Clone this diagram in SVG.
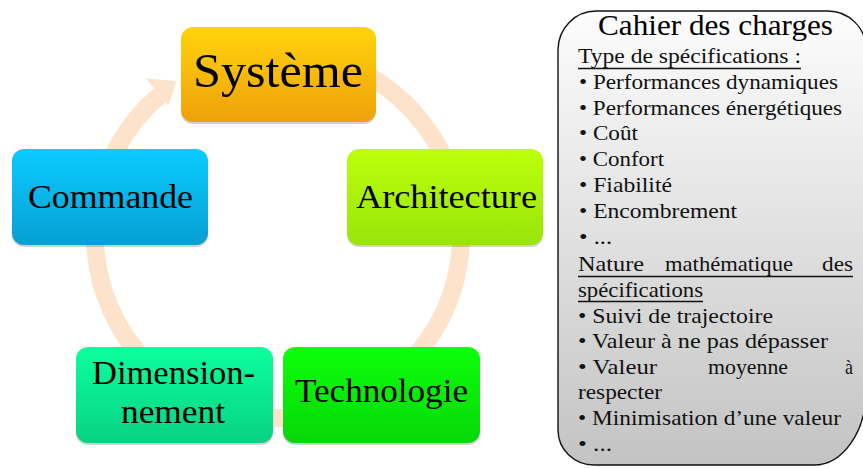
<svg xmlns="http://www.w3.org/2000/svg" width="863" height="468" viewBox="0 0 863 468">
<defs>
<linearGradient id="gSys" x1="0" y1="0" x2="0" y2="1"><stop offset="0" stop-color="#ffd30c"/><stop offset="1" stop-color="#efa10a"/></linearGradient>
<linearGradient id="gCom" x1="0" y1="0" x2="0" y2="1"><stop offset="0" stop-color="#0bcbff"/><stop offset="1" stop-color="#079fd2"/></linearGradient>
<linearGradient id="gArc" x1="0" y1="0" x2="0" y2="1"><stop offset="0" stop-color="#bdff0b"/><stop offset="1" stop-color="#98e50a"/></linearGradient>
<linearGradient id="gDim" x1="0" y1="0" x2="0" y2="1"><stop offset="0" stop-color="#0bff9d"/><stop offset="1" stop-color="#08d283"/></linearGradient>
<linearGradient id="gTec" x1="0" y1="0" x2="0" y2="1"><stop offset="0" stop-color="#0bff0b"/><stop offset="1" stop-color="#07d807"/></linearGradient>
<linearGradient id="gCdc" x1="0" y1="0" x2="0" y2="1"><stop offset="0" stop-color="#fdfdfd"/><stop offset="1" stop-color="#c3c3c3"/></linearGradient>
</defs>
<rect width="863" height="468" fill="#fff"/>
<g id="connectors" fill="#fde3cb">
<path d="M 370 76.8 A 183 183 0 1 1 159.9 95.2" fill="none" stroke="#fde3cb" stroke-width="18"/>
<polygon points="145.7,78.4 176.5,81 168.5,105.5"/>
</g>
<g id="systeme">
<rect x="181" y="29" width="195" height="95" rx="12" fill="#000" fill-opacity="0.18"/>
<rect x="181" y="27" width="195" height="95" rx="12" fill="url(#gSys)"/>
<text font-family="Liberation Serif" font-size="48" fill="#000" x="193" y="87" textLength="170" lengthAdjust="spacingAndGlyphs">Système</text>
</g>
<g id="architecture">
<rect x="347" y="151" width="196" height="96" rx="12" fill="#000" fill-opacity="0.18"/>
<rect x="347" y="149" width="196" height="96" rx="12" fill="url(#gArc)"/>
<text font-family="Liberation Serif" font-size="34" fill="#000" x="356" y="208" textLength="181" lengthAdjust="spacingAndGlyphs">Architecture</text>
</g>
<g id="technologie">
<rect x="283" y="349" width="197" height="96" rx="12" fill="#000" fill-opacity="0.18"/>
<rect x="283" y="347" width="197" height="96" rx="12" fill="url(#gTec)"/>
<text font-family="Liberation Serif" font-size="34" fill="#000" x="295" y="402" textLength="173" lengthAdjust="spacingAndGlyphs">Technologie</text>
</g>
<g id="dimensionnement">
<rect x="76" y="349" width="197" height="96" rx="12" fill="#000" fill-opacity="0.18"/>
<rect x="76" y="347" width="197" height="96" rx="12" fill="url(#gDim)"/>
<text font-family="Liberation Serif" font-size="34" fill="#000" x="92" y="384" textLength="163" lengthAdjust="spacingAndGlyphs">Dimension-</text>
<text font-family="Liberation Serif" font-size="34" fill="#000" x="121" y="423" textLength="104" lengthAdjust="spacingAndGlyphs">nement</text>
</g>
<g id="commande">
<rect x="12" y="151" width="196" height="96" rx="12" fill="#000" fill-opacity="0.18"/>
<rect x="12" y="149" width="196" height="96" rx="12" fill="url(#gCom)"/>
<text font-family="Liberation Serif" font-size="34" fill="#000" x="28" y="208" textLength="165" lengthAdjust="spacingAndGlyphs">Commande</text>
</g>
<g id="cahier">
<path d="M 558 50 A 38 39 0 0 1 596 11 H 828 A 38 38 0 0 1 866 49 V 391 A 52 74 0 0 1 814 465 H 594 A 36 35 0 0 1 558 430 Z" fill="url(#gCdc)" stroke="#111" stroke-width="1.4"/>
<text font-family="Liberation Serif" font-size="29" fill="#000" x="598" y="35" textLength="235" lengthAdjust="spacingAndGlyphs">Cahier des charges</text>
<text font-family="Liberation Serif" font-size="21" fill="#111" x="578" y="63" textLength="223" lengthAdjust="spacingAndGlyphs">Type de spécifications :</text>
<text font-family="Liberation Serif" font-size="21" fill="#111" x="579" y="89" textLength="259" lengthAdjust="spacingAndGlyphs">• Performances dynamiques</text>
<text font-family="Liberation Serif" font-size="21" fill="#111" x="579" y="115" textLength="263" lengthAdjust="spacingAndGlyphs">• Performances énergétiques</text>
<text font-family="Liberation Serif" font-size="21" fill="#111" x="579" y="140" textLength="59" lengthAdjust="spacingAndGlyphs">• Coût</text>
<text font-family="Liberation Serif" font-size="21" fill="#111" x="579" y="166" textLength="85" lengthAdjust="spacingAndGlyphs">• Confort</text>
<text font-family="Liberation Serif" font-size="21" fill="#111" x="579" y="192" textLength="93" lengthAdjust="spacingAndGlyphs">• Fiabilité</text>
<text font-family="Liberation Serif" font-size="21" fill="#111" x="579" y="218" textLength="158" lengthAdjust="spacingAndGlyphs">• Encombrement</text>
<text font-family="Liberation Serif" font-size="21" fill="#111" x="579" y="244" textLength="33" lengthAdjust="spacingAndGlyphs">• ...</text>
<text font-family="Liberation Serif" font-size="21" fill="#111" y="271"><tspan x="578" textLength="66" lengthAdjust="spacingAndGlyphs">Nature</tspan><tspan x="665" textLength="128" lengthAdjust="spacingAndGlyphs">mathématique</tspan><tspan x="822" textLength="31" lengthAdjust="spacingAndGlyphs">des</tspan></text>
<text font-family="Liberation Serif" font-size="21" fill="#111" x="578" y="297" textLength="125" lengthAdjust="spacingAndGlyphs">spécifications</text>
<text font-family="Liberation Serif" font-size="21" fill="#111" x="578" y="323" textLength="195" lengthAdjust="spacingAndGlyphs">• Suivi de trajectoire</text>
<text font-family="Liberation Serif" font-size="21" fill="#111" x="578" y="348" textLength="250" lengthAdjust="spacingAndGlyphs">• Valeur à ne pas dépasser</text>
<text font-family="Liberation Serif" font-size="21" fill="#111" y="374"><tspan x="578" textLength="79" lengthAdjust="spacingAndGlyphs">• Valeur</tspan><tspan x="708" textLength="80" lengthAdjust="spacingAndGlyphs">moyenne</tspan><tspan x="845" textLength="8" lengthAdjust="spacingAndGlyphs">à</tspan></text>
<text font-family="Liberation Serif" font-size="21" fill="#111" x="578" y="399" textLength="84" lengthAdjust="spacingAndGlyphs">respecter</text>
<text font-family="Liberation Serif" font-size="21" fill="#111" x="578" y="425" textLength="263" lengthAdjust="spacingAndGlyphs">• Minimisation d’une valeur</text>
<text font-family="Liberation Serif" font-size="21" fill="#111" x="578" y="451" textLength="34" lengthAdjust="spacingAndGlyphs">• ...</text>
<g stroke="#111" stroke-width="1.3">
<line x1="578" y1="68.5" x2="801" y2="68.5"/>
<line x1="578" y1="276.5" x2="853" y2="276.5"/>
<line x1="578" y1="301.5" x2="703" y2="301.5"/>
</g>
</g>
</svg>
